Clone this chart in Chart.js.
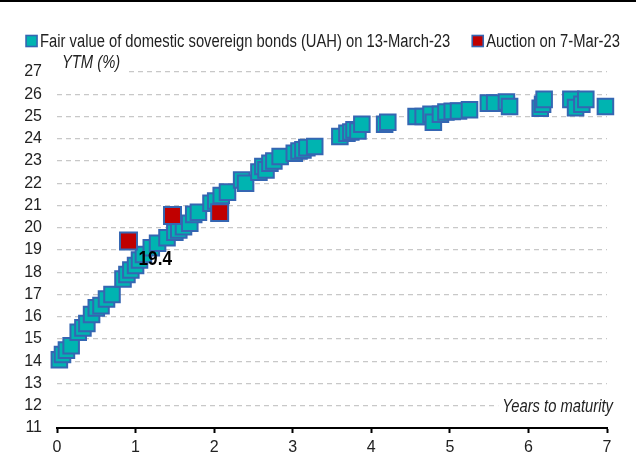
<!DOCTYPE html>
<html>
<head>
<meta charset="utf-8">
<title>Domestic sovereign bonds yield curve</title>
<script src="https://cdn.jsdelivr.net/npm/chart.js@4.4.1/dist/chart.umd.min.js"></script>
<style>
  html, body { margin: 0; padding: 0; background: #ffffff; }
  canvas { display: block; }
</style>
</head>
<body>
<canvas id="curve" width="636" height="468"></canvas>
<script>
// Fair value of UAH domestic sovereign bonds, 13-March-23: years to maturity / YTM, %
const fairYears = [
  0.03, 0.07, 0.12, 0.18, 0.27, 0.33, 0.38, 0.44, 0.50, 0.56,
  0.63, 0.70, 0.84, 0.89, 0.94, 1.00, 1.05, 1.10, 1.20, 1.28,
  1.40, 1.50, 1.55, 1.61, 1.69, 1.74, 1.80, 1.96, 2.02, 2.09,
  2.17, 2.35, 2.40, 2.57, 2.62, 2.66, 2.71, 2.76, 2.84, 3.02,
  3.08, 3.13, 3.18, 3.28, 3.60, 3.69, 3.74, 3.78, 3.83, 3.88,
  4.17, 4.21, 4.57, 4.66, 4.76, 4.79, 4.88, 4.95, 5.03, 5.11,
  5.25, 5.49, 5.57, 5.72, 5.76, 6.15, 6.18, 6.20, 6.54, 6.60,
  6.68, 6.73, 6.98
];
const fairYtm = [
  14.07, 14.30, 14.50, 14.70, 15.30, 15.50, 15.70, 16.10, 16.40, 16.50,
  16.80, 17.00, 17.70, 17.90, 18.10, 18.30, 18.55, 18.80, 19.10, 19.30,
  19.55, 19.80, 19.90, 20.05, 20.20, 20.60, 20.70, 21.10, 21.20, 21.45,
  21.60, 22.15, 22.00, 22.50, 22.75, 22.60, 22.90, 23.00, 23.20, 23.35,
  23.45, 23.50, 23.60, 23.65, 24.10, 24.25, 24.30, 24.40, 24.35, 24.65,
  24.65, 24.74, 25.00, 25.00, 25.10, 24.74, 25.10, 25.20, 25.23, 25.25,
  25.30, 25.60, 25.60, 25.65, 25.45, 25.37, 25.55, 25.77, 25.77, 25.40,
  25.55, 25.77, 25.45
];

// Primary auction on 7-Mar-23
const auctionYears = [0.91, 1.47, 2.07];
const auctionYtm = [19.4, 20.55, 20.68];

const seriesNames = [
  'Fair value of domestic sovereign bonds (UAH) on 13-March-23',
  'Auction on 7-Mar-23'
];
const yTitle = 'YTM (%)';
const xTitle = 'Years to maturity';
const xRange = [0, 7];
const yRange = [11, 27];
const labelledAuction = 0;   // auction point whose yield is written next to it

const FONT = '"Liberation Sans", Arial, sans-serif';
const NARROW = 0.82;          // horizontal squeeze for a narrow-face look
const TEAL = '#00b4b1';
const RED = '#c00000';
const EDGE = '#3566b2';
const INK = '#222222';

const toPoints = (xs, ys) => xs.map((x, i) => ({ x: x, y: ys[i] }));

// draws text squeezed horizontally, anchored at (x, y)
function narrowText(ctx, text, x, y, align) {
  ctx.save();
  ctx.translate(x, y);
  ctx.scale(NARROW, 1);
  ctx.textAlign = align;
  ctx.fillText(text, 0, 0);
  ctx.restore();
}
const narrowWidth = (ctx, text) => ctx.measureText(text).width * NARROW;

// Legend, axis titles, value label and top rule
const decorations = {
  id: 'decorations',
  afterDraw(chart) {
    const ctx = chart.ctx;
    const area = chart.chartArea;
    const xs = chart.scales.x;
    const ys = chart.scales.y;
    ctx.save();
    ctx.textBaseline = 'middle';

    // top rule
    ctx.fillStyle = '#000000';
    ctx.fillRect(0, 0, chart.width, 2);

    // legend
    ctx.font = '18px ' + FONT;
    const box = 11, gap = 3, between = 22, legendY = 41;
    const items = chart.data.datasets.map(ds => ({
      text: ds.label, fill: ds.backgroundColor, stroke: ds.borderColor,
      w: narrowWidth(ctx, ds.label)
    }));
    let total = 0;
    items.forEach((it, i) => { total += box + gap + it.w + (i ? between : 0); });
    let lx = chart.width / 2 + 5 - total / 2;
    items.forEach((it, i) => {
      if (i) lx += between;
      ctx.fillStyle = it.fill;
      ctx.fillRect(lx, legendY - box / 2, box, box);
      ctx.strokeStyle = it.stroke;
      ctx.lineWidth = 1.6;
      ctx.strokeRect(lx, legendY - box / 2, box, box);
      ctx.fillStyle = INK;
      narrowText(ctx, it.text, lx + box + gap, legendY + 1, 'left');
      lx += box + gap + it.w;
    });

    // y title, top-left above the plot
    ctx.font = 'italic 18px ' + FONT;
    const ytw = narrowWidth(ctx, yTitle);
    ctx.fillStyle = '#ffffff';
    ctx.fillRect(area.left, 54, ytw + 5 + 6, 22);
    ctx.fillStyle = INK;
    narrowText(ctx, yTitle, area.left + 5, 63, 'left');

    // x title, bottom-right inside the plot
    const xtw = narrowWidth(ctx, xTitle);
    const xRight = area.right + 6;
    ctx.fillStyle = '#ffffff';
    ctx.fillRect(xRight - xtw - 4, 398, xtw + 10, 18);
    ctx.fillStyle = INK;
    narrowText(ctx, xTitle, xRight, 407, 'right');

    // yield label next to the first auction point
    const v = auctionYtm[labelledAuction];
    const px = xs.getPixelForValue(auctionYears[labelledAuction]);
    const py = ys.getPixelForValue(v);
    ctx.font = 'bold 21px ' + FONT;
    ctx.fillStyle = '#000000';
    narrowText(ctx, v.toFixed(1), px + 10, py + 18, 'left');

    ctx.restore();
  }
};

new Chart(document.getElementById('curve'), {
  type: 'scatter',
  data: {
    datasets: [
      {
        label: seriesNames[0],
        data: toPoints(fairYears, fairYtm),
        backgroundColor: TEAL,
        borderColor: EDGE,
        borderWidth: 2,
        pointStyle: 'rect',
        pointRadius: 11,
        order: 2
      },
      {
        label: seriesNames[1],
        data: toPoints(auctionYears, auctionYtm),
        backgroundColor: RED,
        borderColor: EDGE,
        borderWidth: 2,
        pointStyle: 'rect',
        pointRadius: 12,
        order: 1
      }
    ]
  },
  options: {
    responsive: false,
    devicePixelRatio: 1,
    animation: false,
    events: [],
    clip: false,
    layout: { padding: { top: 72, right: 29, bottom: 0, left: 0 } },
    plugins: {
      legend: { display: false },
      tooltip: { enabled: false }
    },
    scales: {
      x: {
        type: 'linear',
        min: xRange[0],
        max: xRange[1],
        afterFit(scale) { scale.height = 40; },
        ticks: {
          stepSize: 1,
          padding: 5,
          color: INK,
          font: { family: FONT, size: 16 }
        },
        grid: {
          drawOnChartArea: false,
          drawTicks: true,
          tickLength: 5,
          tickColor: '#000000',
          tickWidth: 2
        },
        border: { display: true, color: '#000000', width: 2 }
      },
      y: {
        type: 'linear',
        min: yRange[0],
        max: yRange[1],
        afterFit(scale) { scale.width = 57; },
        ticks: {
          stepSize: 1,
          padding: 15,
          color: INK,
          font: { family: FONT, size: 16 }
        },
        grid: {
          drawTicks: false,
          color: '#c8c8c8',
          lineWidth: 1.3
        },
        border: { display: false, dash: [5, 4] }
      }
    }
  },
  plugins: [decorations]
});
</script>
</body>
</html>
